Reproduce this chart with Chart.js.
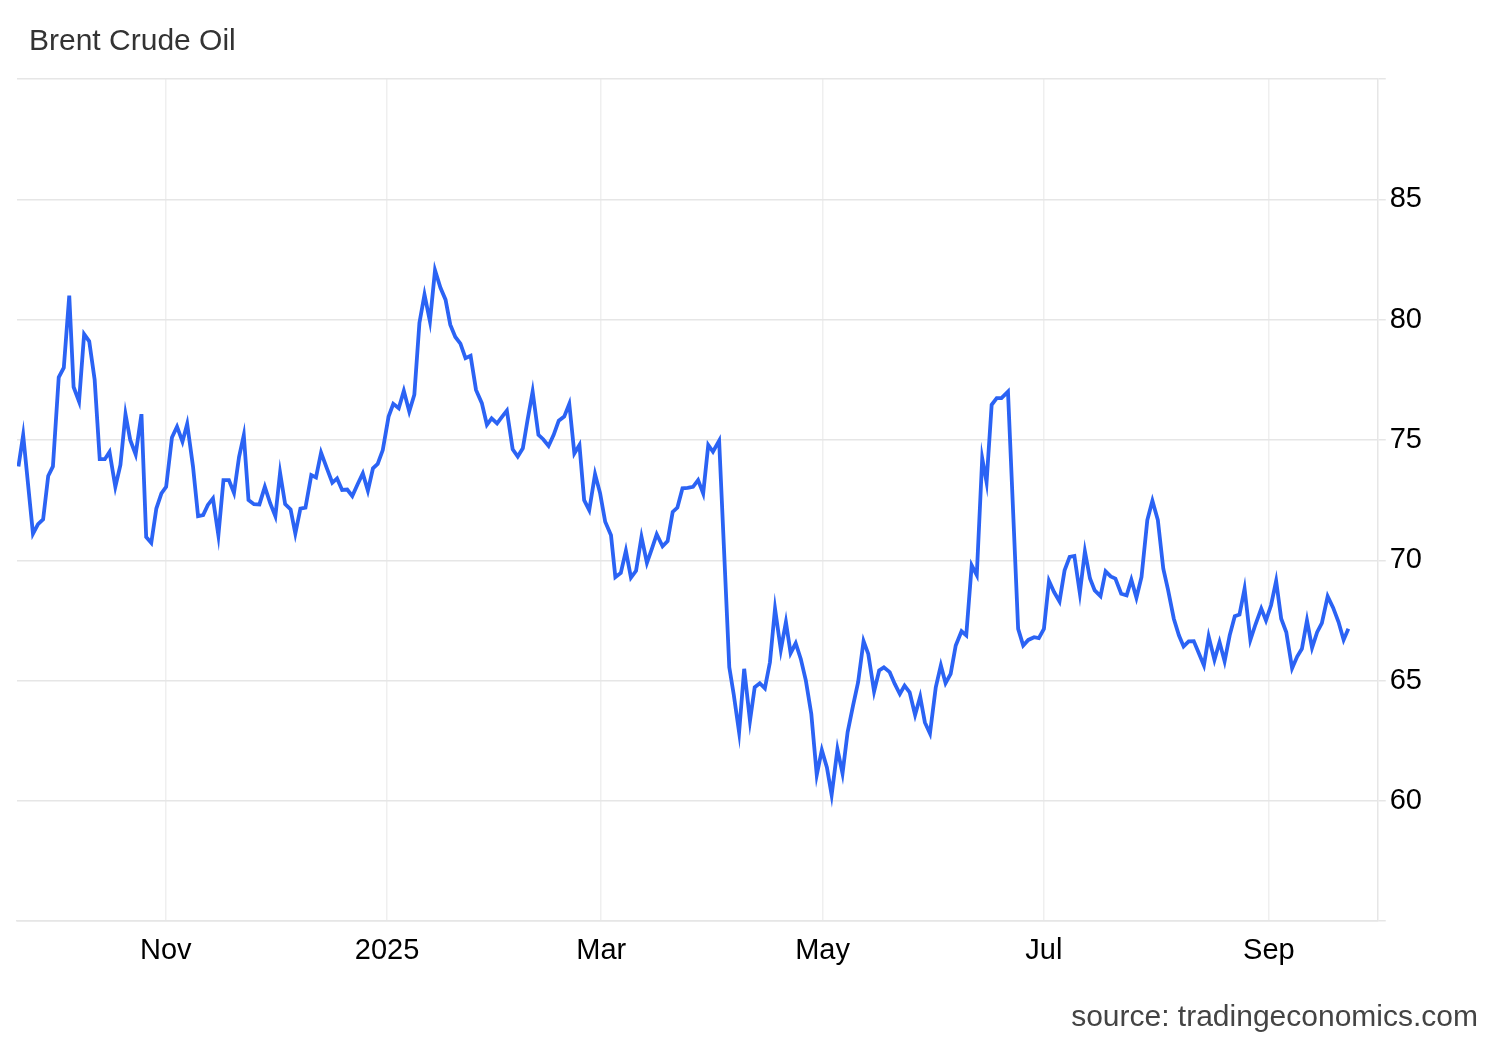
<!DOCTYPE html>
<html>
<head>
<meta charset="utf-8">
<script src="https://cdn.jsdelivr.net/npm/chart.js@4.4.1/dist/chart.umd.min.js"></script>
<style>
  html, body { margin: 0; padding: 0; background: #fff; }
  #wrap { position: relative; width: 1500px; height: 1040px; font-family: "Liberation Sans", Arial, sans-serif; }
  #title { position: absolute; left: 29px; top: 23px; font-size: 30px; color: #333; }
  #source { position: absolute; right: 22px; top: 999px; font-size: 30px; color: #444; }
  canvas { position: absolute; left: 0; top: 0; }
</style>
</head>
<body>
<div id="wrap">
  <canvas id="chart" width="1500" height="1040"></canvas>
  <div id="title">Brent Crude Oil</div>
  <div id="source">source: tradingeconomics.com</div>
</div>
<script>
// days counted from 2025-01-01
const days = [
  -101.6, -100.3, -97.6, -96.2, -94.8, -93.4, -92.1, -90.5, -89.1, -87.6,
  -86.4, -84.9, -83.5, -82.1, -80.6, -79.2, -77.8, -76.5, -74.9, -73.5,
  -72.1, -70.8, -69.3, -67.7, -66.4, -65.0, -63.6, -62.2, -60.9, -59.3,
  -57.9, -56.4, -55.1, -53.5, -52.1, -50.7, -49.4, -48.0, -46.5, -45.1,
  -43.6, -42.2, -40.8, -39.5, -38.2, -36.7, -35.2, -33.7, -32.2, -30.8,
  -29.5, -28.1, -26.6, -25.3, -23.9, -22.5, -20.9, -19.6, -18.2, -16.6,
  -15.1, -13.8, -12.4, -11.0, -9.6, -8.1, -6.7, -5.3, -3.9, -2.6,
  -1.2, 0.4, 1.7, 3.2, 4.6, 6.1, 7.5, 8.9, 10.3, 11.8,
  13.2, 14.7, 16.1, 17.4, 18.8, 20.2, 21.6, 23.0, 24.5, 26.1,
  27.5, 28.8, 30.3, 31.7, 33.0, 34.6, 36.0, 37.4, 38.7, 40.1,
  41.7, 43.0, 44.5, 45.9, 47.3, 48.8, 50.2, 51.6, 53.0, 54.3,
  55.7, 57.3, 58.7, 60.1, 61.7, 62.9, 64.4, 65.8, 67.2, 68.6,
  70.1, 71.6, 73.0, 74.3, 75.9, 77.3, 78.7, 80.0, 81.4, 82.8,
  84.3, 85.7, 87.1, 88.5, 89.8, 91.5, 94.3, 95.5, 97.0, 98.4,
  100.0, 101.3, 102.7, 104.1, 105.5, 106.9, 108.5, 109.9, 111.2, 112.6,
  114.0, 115.4, 116.9, 118.4, 119.8, 121.2, 122.5, 124.1, 125.5, 126.9,
  128.4, 129.8, 131.3, 132.6, 134.2, 135.6, 136.9, 138.5, 139.9, 141.3,
  142.6, 144.0, 145.5, 146.9, 148.2, 149.6, 151.2, 152.6, 153.9, 155.3,
  156.7, 158.3, 159.6, 161.1, 162.5, 164.0, 165.2, 166.6, 168.0, 169.3,
  171.1, 173.9, 175.3, 176.7, 178.3, 179.6, 181.0, 182.4, 183.8, 185.3,
  186.7, 188.1, 189.4, 190.9, 192.3, 193.7, 195.0, 196.6, 198.0, 199.4,
  200.7, 202.3, 203.8, 205.1, 206.5, 207.9, 209.5, 210.9, 212.4, 213.9,
  215.2, 216.8, 218.2, 219.5, 220.9, 222.3, 223.7, 225.1, 226.4, 228.0,
  229.4, 230.8, 232.2, 233.6, 234.9, 236.3, 237.9, 239.3, 240.9, 242.2,
  243.6, 245.0, 246.4, 247.8, 249.4, 250.8, 252.1, 253.5, 254.9, 256.3,
  257.6, 259.2, 260.7, 262.2, 263.6, 264.9
];

const prices = [
  73.9, 75.2, 71.1, 71.5, 71.7, 73.5, 73.9, 77.6, 78.0, 81.0,
  77.2, 76.6, 79.4, 79.1, 77.5, 74.2, 74.2, 74.5, 73.05, 73.96,
  76.07, 75.0, 74.4, 76.07, 70.97, 70.72, 72.15, 72.78, 73.05, 75.1,
  75.55, 74.93, 75.67, 73.9, 71.83, 71.88, 72.3, 72.57, 71.04, 73.33,
  73.33, 72.8, 74.3, 75.2, 72.5, 72.33, 72.32, 73.05, 72.36, 71.83,
  73.64, 72.33, 72.11, 71.11, 72.15, 72.19, 73.54, 73.44, 74.47, 73.82,
  73.22, 73.4, 72.92, 72.94, 72.67, 73.17, 73.61, 72.89, 73.82, 74.0,
  74.58, 75.97, 76.5, 76.32, 77.04, 76.18, 76.88, 79.86, 81.04, 79.93,
  82.05, 81.32, 80.83, 79.79, 79.28, 79.0, 78.4, 78.5, 77.08, 76.53,
  75.63, 75.9, 75.69, 75.97, 76.22, 74.61, 74.31, 74.65, 75.83, 77.01,
  75.21, 75.03, 74.75, 75.21, 75.8, 75.97, 76.5, 74.44, 74.79, 72.5,
  72.08, 73.58, 72.78, 71.6, 71.04, 69.3, 69.47, 70.39, 69.28, 69.56,
  70.97, 69.89, 70.49, 71.08, 70.58, 70.8, 72.01, 72.19, 72.99, 73.01,
  73.05, 73.33, 72.78, 74.79, 74.51, 74.97, 65.55, 64.44, 62.85, 65.49,
  63.33, 64.72, 64.89, 64.68, 65.76, 67.99, 66.28, 67.43, 66.14, 66.55,
  65.9, 65.0, 63.61, 61.08, 62.11, 61.39, 60.25, 62.15, 61.14, 62.85,
  63.96, 64.93, 66.64, 66.11, 64.55, 65.42, 65.55, 65.35, 64.86, 64.44,
  64.79, 64.51, 63.57, 64.33, 63.26, 62.8, 64.72, 65.63, 64.89, 65.28,
  66.46, 67.05, 66.88, 69.79, 69.38, 74.24, 73.24, 76.46, 76.74, 76.74,
  77.01, 67.15, 66.46, 66.69, 66.8, 66.76, 67.15, 69.14, 68.68, 68.29,
  69.58, 70.14, 70.18, 68.64, 70.37, 69.24, 68.75, 68.51, 69.54, 69.33,
  69.24, 68.61, 68.54, 69.19, 68.44, 69.31, 71.67, 72.47, 71.67, 69.65,
  68.78, 67.57, 66.88, 66.42, 66.63, 66.64, 66.14, 65.63, 66.83, 65.86,
  66.6, 65.8, 66.88, 67.67, 67.74, 68.82, 66.69, 67.33, 67.99, 67.5,
  68.13, 69.14, 67.57, 67.01, 65.51, 66.0, 66.32, 67.5, 66.36, 67.01,
  67.39, 68.5, 68.03, 67.43, 66.69, 67.15
];

// month starts (days from 2025-01-01) and their labels
const monthTicks = [-61, 0, 59, 120, 181, 243];
const monthLabels = ['Nov', '2025', 'Mar', 'May', 'Jul', 'Sep'];

const points = days.map((d, i) => ({ x: d, y: prices[i] }));

const ctx = document.getElementById('chart').getContext('2d');
new Chart(ctx, {
    type: 'line',
    data: {
        datasets: [{
            label: 'Brent Crude Oil',
            data: points,
            borderColor: '#2b63f4',
            borderWidth: 3.8,
            pointRadius: 0,
            tension: 0,
            fill: false
        }]
    },
    options: {
        responsive: false,
        animation: false,
        devicePixelRatio: 1,
        layout: {
            padding: { left: 17, right: 74, top: 79, bottom: 60 }
        },
        plugins: {
            legend: { display: false },
            tooltip: { enabled: false }
        },
        scales: {
            x: {
                type: 'linear',
                min: -102,
                max: 273,
                afterBuildTicks: function (axis) {
                    axis.ticks = monthTicks.map(v => ({ value: v }));
                },
                grid: { color: '#efefef', lineWidth: 1.5, drawTicks: false },
                border: { color: '#e6e6e6', width: 1.5 },
                ticks: {
                    padding: 12,
                    color: '#000',
                    font: { family: '"Liberation Sans", Arial, sans-serif', size: 29 },
                    maxRotation: 0,
                    callback: function (value) {
                        const i = monthTicks.indexOf(value);
                        return i >= 0 ? monthLabels[i] : '';
                    }
                }
            },
            y: {
                position: 'right',
                min: 55,
                max: 90,
                grid: { color: '#e6e6e6', lineWidth: 1.5, tickLength: 8 },
                border: { color: '#e6e6e6', width: 1.5 },
                ticks: {
                    stepSize: 5,
                    padding: 4,
                    color: '#000',
                    font: { family: '"Liberation Sans", Arial, sans-serif', size: 29 },
                    callback: function (value) {
                        return (value === 55 || value === 90) ? '' : value;
                    }
                }
            }
        }
    }
});
</script>
</body>
</html>
